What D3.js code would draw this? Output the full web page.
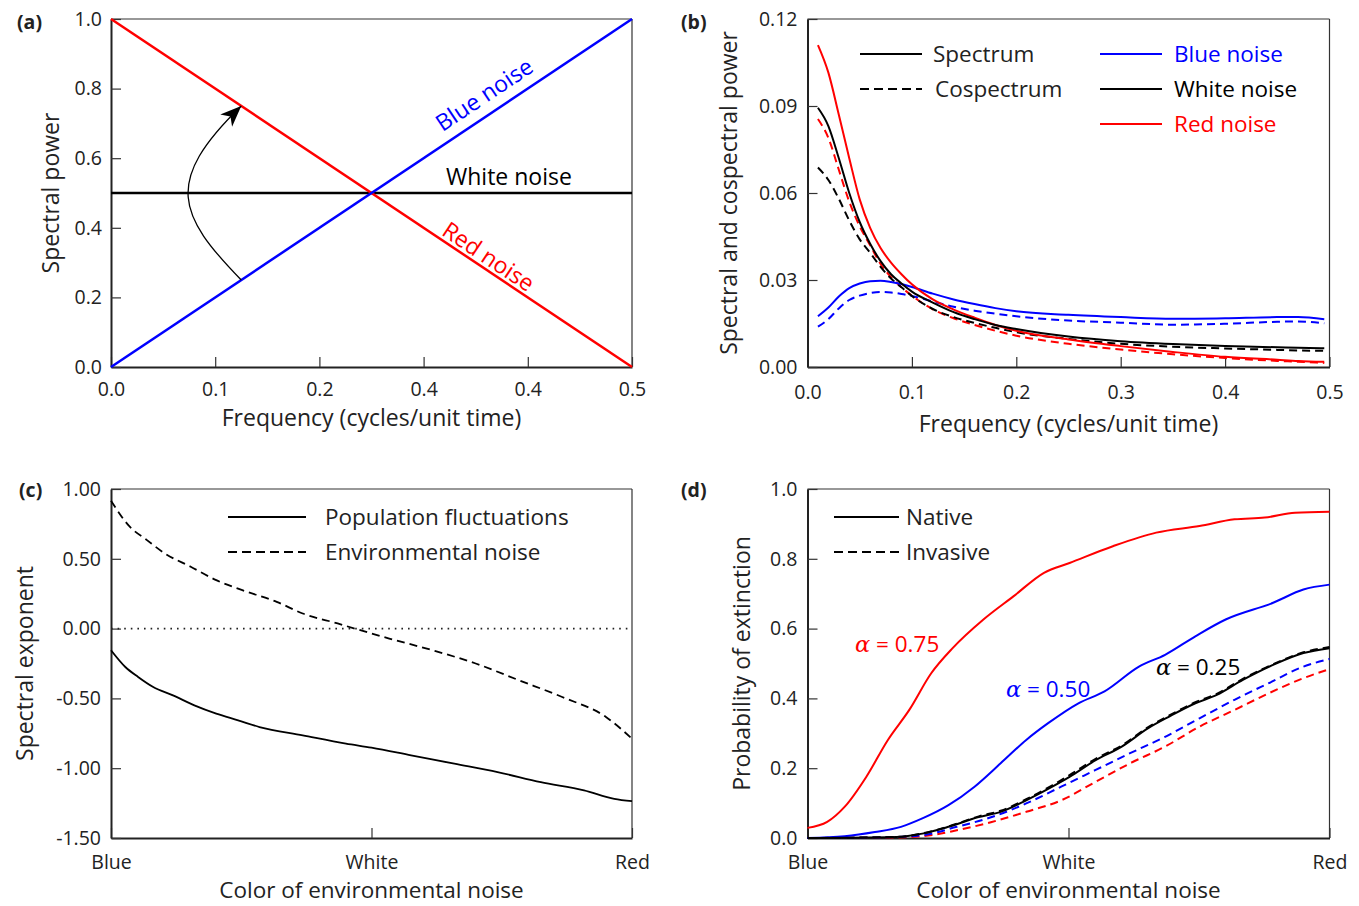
<!DOCTYPE html>
<html>
<head>
<meta charset="utf-8">
<script src="https://cdn.jsdelivr.net/npm/d3@7/dist/d3.min.js"></script>
<style>
  html, body { margin: 0; padding: 0; background: #fff; }
  svg text { font-family: "Open Sans", "Noto Sans", sans-serif; fill: #222; }
</style>
</head>
<body>
<svg id="chart" width="1359" height="906"></svg>
<script>
// ---------------- DATA ----------------
// Panel (a)
const aFreq = [0, 0.5];
const aBlue = [0, 1];
const aRed = [1, 0];
const aWhite = [0.5, 0.5];
const aXTicks = [0, 0.1, 0.2, 0.3, 0.4, 0.5];
const aXTickLabels = ["0.0", "0.1", "0.2", "0.4", "0.4", "0.5"];
const aYTicks = [0, 0.2, 0.4, 0.6, 0.8, 1.0];
const aYTickLabels = ["0.0", "0.2", "0.4", "0.6", "0.8", "1.0"];
// arrow (data coords): start, control1, control2, end
const aArrowF = [0.125, 0.0643, 0.0499, 0.125];
const aArrowP = [0.25, 0.437, 0.532, 0.75];

// Panel (b)
const bFreq = [0.01, 0.02, 0.03, 0.04, 0.05, 0.06, 0.07, 0.08, 0.09, 0.10, 0.12, 0.14, 0.16, 0.18, 0.20, 0.25, 0.30, 0.35, 0.40, 0.45, 0.47, 0.495];
const bRedSpec   = [0.111, 0.1015, 0.087, 0.072, 0.0578, 0.048, 0.041, 0.036, 0.032, 0.0285, 0.0233, 0.0198, 0.017, 0.0145, 0.0125, 0.0095, 0.0072, 0.0052, 0.0035, 0.0025, 0.0021, 0.0018];
const bWhiteSpec = [0.0894, 0.0831, 0.072, 0.060, 0.050, 0.0425, 0.0365, 0.032, 0.0288, 0.026, 0.0222, 0.0189, 0.0165, 0.0145, 0.0131, 0.0105, 0.0089, 0.0079, 0.0072, 0.0068, 0.0066, 0.0065];
const bBlueSpec  = [0.0175, 0.0205, 0.0243, 0.0272, 0.0288, 0.0296, 0.0297, 0.0293, 0.0286, 0.0276, 0.0253, 0.0233, 0.0217, 0.0203, 0.0192, 0.0180, 0.0172, 0.0166, 0.0168, 0.0172, 0.0172, 0.0165];
const bRedCo     = [0.0855, 0.079, 0.068, 0.057, 0.0485, 0.042, 0.0355, 0.031, 0.0275, 0.0246, 0.0199, 0.0168, 0.0145, 0.0125, 0.0108, 0.0080, 0.0060, 0.0044, 0.0031, 0.0021, 0.0018, 0.0014];
const bWhiteCo   = [0.0688, 0.0645, 0.058, 0.0505, 0.044, 0.0394, 0.0345, 0.0305, 0.0275, 0.0245, 0.020, 0.0172, 0.0152, 0.0135, 0.0120, 0.0097, 0.0080, 0.0070, 0.0064, 0.0059, 0.0057, 0.0056];
const bBlueCo    = [0.0139, 0.0165, 0.0202, 0.0231, 0.0246, 0.0255, 0.0259, 0.0257, 0.0252, 0.0245, 0.0226, 0.0208, 0.0194, 0.0184, 0.0175, 0.0160, 0.0153, 0.0146, 0.0149, 0.0156, 0.0157, 0.0151];
const bXTicks = [0, 0.1, 0.2, 0.3, 0.4, 0.5];
const bXTickLabels = ["0.0", "0.1", "0.2", "0.3", "0.4", "0.5"];
const bYTicks = [0, 0.03, 0.06, 0.09, 0.12];
const bYTickLabels = ["0.00", "0.03", "0.06", "0.09", "0.12"];

// Panel (c)
const cSolidX = [0, 0.0275, 0.052, 0.081, 0.119, 0.160, 0.202, 0.244, 0.285, 0.368, 0.451, 0.5, 0.576, 0.659, 0.742, 0.825, 0.908, 0.966, 1.0];
const cSolidY = [-0.155, -0.275, -0.346, -0.418, -0.478, -0.55, -0.609, -0.657, -0.705, -0.765, -0.824, -0.853, -0.908, -0.968, -1.028, -1.10, -1.159, -1.219, -1.236];
const cDashX = [0, 0.036, 0.069, 0.103, 0.153, 0.202, 0.252, 0.318, 0.368, 0.435, 0.468, 0.534, 0.617, 0.700, 0.783, 0.866, 0.950, 1.0];
const cDashY = [0.916, 0.73, 0.634, 0.539, 0.443, 0.347, 0.275, 0.192, 0.108, 0.037, 0.0, -0.071, -0.155, -0.25, -0.37, -0.49, -0.633, -0.789];
const colorTicks = [0, 0.5, 1];
const colorTickLabels = ["Blue", "White", "Red"];
const cYTicks = [1, 0.5, 0, -0.5, -1, -1.5];
const cYTickLabels = ["1.00", "0.50", "0.00", "-0.50", "-1.00", "-1.50"];

// Panel (d)
const dRedNatX = [0, 0.0377, 0.071, 0.1125, 0.154, 0.195, 0.237, 0.278, 0.337, 0.395, 0.453, 0.502, 0.585, 0.668, 0.751, 0.818, 0.876, 0.934, 1];
const dRedNatY = [0.029, 0.046, 0.089, 0.175, 0.281, 0.367, 0.472, 0.544, 0.626, 0.693, 0.760, 0.788, 0.836, 0.875, 0.894, 0.913, 0.918, 0.932, 0.935];
const dBlueNatX = [0, 0.071, 0.129, 0.179, 0.220, 0.270, 0.320, 0.370, 0.419, 0.461, 0.519, 0.569, 0.635, 0.685, 0.743, 0.801, 0.892, 0.950, 1];
const dBlueNatY = [0, 0.005, 0.017, 0.032, 0.056, 0.094, 0.147, 0.214, 0.281, 0.329, 0.386, 0.420, 0.491, 0.525, 0.578, 0.626, 0.674, 0.712, 0.726];
const dBlackX = [0, 0.170, 0.220, 0.270, 0.328, 0.370, 0.419, 0.469, 0.502, 0.552, 0.602, 0.652, 0.693, 0.743, 0.784, 0.834, 0.892, 0.950, 1];
const dBlackNatY = [0, 0.003, 0.0125, 0.032, 0.060, 0.075, 0.108, 0.147, 0.175, 0.223, 0.262, 0.314, 0.348, 0.386, 0.410, 0.453, 0.496, 0.530, 0.544];
const dBlackInvY = [0, 0.003, 0.013, 0.033, 0.062, 0.078, 0.111, 0.151, 0.180, 0.227, 0.265, 0.317, 0.351, 0.389, 0.413, 0.456, 0.498, 0.532, 0.547];
const dInvX = [0, 0.15, 0.22, 0.286, 0.353, 0.419, 0.486, 0.552, 0.618, 0.685, 0.751, 0.818, 0.884, 0.950, 1];
const dBlueInvY = [0, 0.002, 0.008, 0.032, 0.06, 0.099, 0.147, 0.195, 0.243, 0.290, 0.343, 0.396, 0.444, 0.491, 0.513];
const dRedInvY  = [0, 0.001, 0.005, 0.022, 0.046, 0.075, 0.108, 0.161, 0.214, 0.262, 0.319, 0.367, 0.415, 0.458, 0.484];
const dYTicks = [0, 0.2, 0.4, 0.6, 0.8, 1.0];
const dYTickLabels = ["0.0", "0.2", "0.4", "0.6", "0.8", "1.0"];

// ---------------- DRAWING ----------------
const RED = "#ff0000", BLUE = "#0000ff", BLACK = "#000000";
const TICK_FS = 19.5, TITLE_FS = 23, LEGEND_FS = 22.5;
const svg = d3.select("#chart");
const defs = svg.append("defs");
defs.append("marker")
  .attr("id", "arrowhead")
  .attr("viewBox", "-22 -10 24 20")
  .attr("refX", 0).attr("refY", 0)
  .attr("markerWidth", 24).attr("markerHeight", 20)
  .attr("markerUnits", "userSpaceOnUse")
  .attr("orient", "auto")
  .append("path")
  .attr("d", "M0,0 L-21,-8.5 L-15,0 L-21,8.5 Z")
  .attr("fill", "#000");

function frame(g, x, y, opt) {
  const [x0, x1] = x.range();
  const [y0, y1] = y.range(); // y0 bottom, y1 top
  g.append("line").attr("x1", x0).attr("x2", x1).attr("y1", y1).attr("y2", y1)
    .attr("stroke", "#333").attr("stroke-width", 1.2);
  g.append("line").attr("x1", x1).attr("x2", x1).attr("y1", y1).attr("y2", y0)
    .attr("stroke", "#333").attr("stroke-width", 1.2);

  const xAxis = d3.axisBottom(x).tickValues(opt.xTicks)
    .tickFormat((d, i) => opt.xLabels[i])
    .tickSizeInner(-10).tickSizeOuter(0).tickPadding(opt.xPad);
  const gx = g.append("g").attr("transform", `translate(0,${y0})`).call(xAxis);
  const yAxis = d3.axisLeft(y).tickValues(opt.yTicks)
    .tickFormat((d, i) => opt.yLabels[i])
    .tickSizeInner(-10).tickSizeOuter(0).tickPadding(opt.yPad);
  const gy = g.append("g").attr("transform", `translate(${x0},0)`).call(yAxis);
  [gx, gy].forEach(a => {
    a.select(".domain").attr("stroke", "#222").attr("stroke-width", 2);
    a.selectAll(".tick line").attr("stroke", "#333").attr("stroke-width", 1.2);
    a.selectAll(".tick text").attr("font-size", TICK_FS).attr("fill", "#222")
      .style("font-family", '"Open Sans", sans-serif');
  });
  g.append("text").attr("x", (x0 + x1) / 2).attr("y", opt.xTitleY)
    .attr("text-anchor", "middle").attr("font-size", opt.xTitleFS || TITLE_FS).text(opt.xTitle);
  g.append("text")
    .attr("transform", `translate(${opt.yTitleX},${(y0 + y1) / 2}) rotate(-90)`)
    .attr("text-anchor", "middle").attr("font-size", TITLE_FS).text(opt.yTitle);
  g.append("text").attr("x", opt.tagX).attr("y", opt.tagY)
    .attr("font-size", 19.5).attr("font-weight", "bold").text(opt.tag);
}

function drawLine(g, x, y, xs, ys, color, dashed, width) {
  const pts = xs.map((v, i) => [v, ys[i]]);
  g.append("path").datum(pts)
    .attr("fill", "none").attr("stroke", color)
    .attr("stroke-width", width || 2)
    .attr("stroke-dasharray", dashed ? "8,5" : null)
    .attr("d", d3.line().x(d => x(d[0])).y(d => y(d[1])).curve(d3.curveMonotoneX));
}

function legendRow(g, x1, x2, yy, color, dashed, label, textX, textColor) {
  g.append("line").attr("x1", x1).attr("x2", x2).attr("y1", yy).attr("y2", yy)
    .attr("stroke", color).attr("stroke-width", 2)
    .attr("stroke-dasharray", dashed ? "9,5" : null);
  g.append("text").attr("x", textX).attr("y", yy + 8)
    .attr("font-size", LEGEND_FS).style("fill", textColor || "#222").text(label);
}

// ---- Panel (a)
{
  const g = svg.append("g");
  const x = d3.scaleLinear().domain([0, 0.5]).range([111, 632]);
  const y = d3.scaleLinear().domain([0, 1]).range([367, 19]);
  frame(g, x, y, {
    xTicks: aXTicks, xLabels: aXTickLabels, yTicks: aYTicks, yLabels: aYTickLabels,
    xPad: 15, yPad: 9, xTitle: "Frequency (cycles/unit time)", xTitleY: 426,
    yTitle: "Spectral power", yTitleX: 59, tag: "(a)", tagX: 17, tagY: 29
  });
  const lw = 2.5;
  g.append("path").datum(aFreq.map((f, i) => [f, aWhite[i]]))
    .attr("fill", "none").attr("stroke", BLACK).attr("stroke-width", lw)
    .attr("d", d3.line().x(d => x(d[0])).y(d => y(d[1])));
  g.append("path").datum(aFreq.map((f, i) => [f, aRed[i]]))
    .attr("fill", "none").attr("stroke", RED).attr("stroke-width", lw)
    .attr("d", d3.line().x(d => x(d[0])).y(d => y(d[1])));
  g.append("path").datum(aFreq.map((f, i) => [f, aBlue[i]]))
    .attr("fill", "none").attr("stroke", BLUE).attr("stroke-width", lw)
    .attr("d", d3.line().x(d => x(d[0])).y(d => y(d[1])));

  const p = d3.path();
  p.moveTo(x(aArrowF[0]), y(aArrowP[0]));
  p.bezierCurveTo(x(aArrowF[1]), y(aArrowP[1]), x(aArrowF[2]), y(aArrowP[2]), x(aArrowF[3]), y(aArrowP[3]));
  g.append("path").attr("d", p.toString()).attr("fill", "none")
    .attr("stroke", "#000").attr("stroke-width", 1.3).attr("marker-end", "url(#arrowhead)");

  const ang = Math.atan2(y(1) - y(0), x(0.5) - x(0)) * 180 / Math.PI; // negative
  const fb = 0.324;
  g.append("text")
    .attr("transform", `translate(${x(fb)},${y(fb * 2)}) rotate(${ang}) translate(0,-11)`)
    .attr("font-size", TITLE_FS).style("fill", BLUE).text("Blue noise");
  const fr = 0.314;
  g.append("text")
    .attr("transform", `translate(${x(fr)},${y(1 - fr * 2)}) rotate(${-ang}) translate(0,-4)`)
    .attr("font-size", TITLE_FS).style("fill", RED).text("Red noise");
  g.append("text").attr("x", 446).attr("y", y(0.5) - 8)
    .attr("font-size", TITLE_FS).style("fill", "#000").text("White noise");
}

// ---- Panel (b)
{
  const g = svg.append("g");
  const x = d3.scaleLinear().domain([0, 0.5]).range([807.5, 1329.5]);
  const y = d3.scaleLinear().domain([0, 0.12]).range([367, 19]);
  frame(g, x, y, {
    xTicks: bXTicks, xLabels: bXTickLabels, yTicks: bYTicks, yLabels: bYTickLabels,
    xPad: 18, yPad: 10, xTitle: "Frequency (cycles/unit time)", xTitleY: 432,
    yTitle: "Spectral and cospectral power", yTitleX: 737, tag: "(b)", tagX: 681, tagY: 29
  });
  drawLine(g, x, y, bFreq, bBlueCo, BLUE, true);
  drawLine(g, x, y, bFreq, bRedCo, RED, true);
  drawLine(g, x, y, bFreq, bWhiteCo, BLACK, true);
  drawLine(g, x, y, bFreq, bBlueSpec, BLUE, false);
  drawLine(g, x, y, bFreq, bRedSpec, RED, false);
  drawLine(g, x, y, bFreq, bWhiteSpec, BLACK, false);

  legendRow(g, 860, 922, 54, BLACK, false, "Spectrum", 933);
  legendRow(g, 860, 922, 89, BLACK, true, "Cospectrum", 935);
  legendRow(g, 1100, 1162, 54, BLUE, false, "Blue noise", 1174, BLUE);
  legendRow(g, 1100, 1162, 89, BLACK, false, "White noise", 1174, "#000");
  legendRow(g, 1100, 1162, 124, RED, false, "Red noise", 1174, RED);
}

// ---- Panel (c)
{
  const g = svg.append("g");
  const x = d3.scaleLinear().domain([0, 1]).range([111, 632]);
  const y = d3.scaleLinear().domain([-1.5, 1]).range([838, 489]);
  frame(g, x, y, {
    xTicks: colorTicks, xLabels: colorTickLabels, yTicks: cYTicks, yLabels: cYTickLabels,
    xPad: 17, yPad: 10, xTitle: "Color of environmental noise", xTitleY: 898, xTitleFS: 22.5,
    yTitle: "Spectral exponent", yTitleX: 33, tag: "(c)", tagX: 19, tagY: 497
  });
  g.append("line").attr("x1", x(0)).attr("x2", x(1)).attr("y1", y(0)).attr("y2", y(0))
    .attr("stroke", "#222").attr("stroke-width", 1.6).attr("stroke-dasharray", "1.6,5");
  drawLine(g, x, y, cDashX, cDashY, BLACK, true, 1.8);
  drawLine(g, x, y, cSolidX, cSolidY, BLACK, false, 1.8);
  legendRow(g, 228, 306, 517, BLACK, false, "Population fluctuations", 325);
  legendRow(g, 228, 306, 552, BLACK, true, "Environmental noise", 325);
}

// ---- Panel (d)
{
  const g = svg.append("g");
  const x = d3.scaleLinear().domain([0, 1]).range([807.5, 1329.5]);
  const y = d3.scaleLinear().domain([0, 1]).range([838, 489]);
  frame(g, x, y, {
    xTicks: colorTicks, xLabels: colorTickLabels, yTicks: dYTicks, yLabels: dYTickLabels,
    xPad: 17, yPad: 10, xTitle: "Color of environmental noise", xTitleY: 898, xTitleFS: 22.5,
    yTitle: "Probability of extinction", yTitleX: 750, tag: "(d)", tagX: 681, tagY: 497
  });
  drawLine(g, x, y, dInvX, dRedInvY, RED, true);
  drawLine(g, x, y, dInvX, dBlueInvY, BLUE, true);
  drawLine(g, x, y, dBlackX, dBlackInvY, BLACK, true);
  drawLine(g, x, y, dRedNatX, dRedNatY, RED, false);
  drawLine(g, x, y, dBlueNatX, dBlueNatY, BLUE, false);
  drawLine(g, x, y, dBlackX, dBlackNatY, BLACK, false);

  legendRow(g, 834, 899, 517, BLACK, false, "Native", 906);
  legendRow(g, 834, 899, 552, BLACK, true, "Invasive", 906);

  function alphaLabel(xx, yy, val, color) {
    const t = g.append("text").attr("x", xx).attr("y", yy).attr("font-size", LEGEND_FS).style("fill", color);
    t.append("tspan").style("font-family", '"DejaVu Serif", "Liberation Serif", serif')
      .style("font-style", "italic").style("fill", color).text("\u03B1");
    t.append("tspan").style("fill", color).text(" = " + val);
  }
  alphaLabel(855, 652, "0.75", RED);
  alphaLabel(1006, 697, "0.50", BLUE);
  alphaLabel(1156, 675, "0.25", "#000");
}
</script>
</body>
</html>
